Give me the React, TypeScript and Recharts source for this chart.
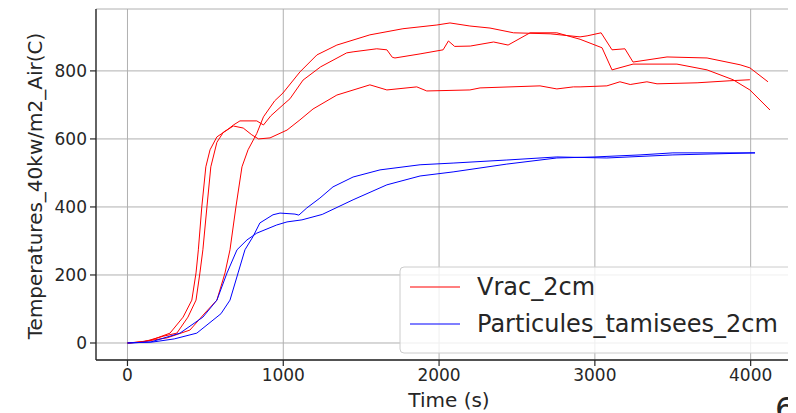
import React from 'react';
import { LineChart, Line, XAxis, YAxis, CartesianGrid } from 'recharts';

const xTicks = [0, 1000, 2000, 3000, 4000];
const yTicks = [0, 200, 400, 600, 800];
const legendLabels = ['Vrac_2cm', 'Particules_tamisees_2cm'];
const xLabel = 'Time (s)';
const yLabel = 'Temperatures_40kw/m2_Air(C)';

type P = { t: number; v: number };
const pts = (a: number[][]): P[] => a.map(([t, v]) => ({ t, v }));

// Vrac_2cm run 1 (early riser, plateau ~650)
const vrac1 = pts([
  [0, 0], [60, 2], [150, 8], [273, 29], [357, 76], [413, 126], [440, 206], [455, 274],
  [477, 400], [503, 518], [530, 568], [574, 606], [639, 626], [680, 641], [722, 653],
  [830, 653], [873, 641], [920, 668], [998, 700], [1043, 718], [1127, 773], [1240, 812],
  [1407, 853], [1448, 856], [1600, 865], [1665, 862], [1700, 840], [1717, 838], [1878, 850],
  [2026, 862], [2060, 888], [2100, 872], [2200, 873], [2350, 885], [2443, 876], [2584, 912],
  [2756, 912], [2905, 893], [3046, 868], [3110, 803], [3245, 820], [3527, 820], [3720, 803],
  [3887, 774], [3995, 744], [4124, 685],
]);

// Vrac_2cm run 2 (second riser, ends ~770)
const vrac2 = pts([
  [0, 0], [100, 3], [230, 20], [317, 29], [388, 76], [440, 126], [465, 206], [484, 274],
  [510, 400], [535, 518], [574, 590], [616, 620], [680, 638], [743, 632], [798, 612],
  [841, 600], [915, 603], [1024, 626], [1107, 656], [1191, 688], [1344, 729], [1556, 759],
  [1665, 744], [1857, 753], [1921, 741], [2198, 744], [2263, 750], [2648, 756], [2756, 747],
  [2862, 753], [2905, 753], [3077, 756], [3161, 768], [3227, 760], [3334, 768], [3399, 762],
  [3656, 765], [3867, 771], [3995, 774],
]);

// Vrac_2cm run 3 (late riser, top curve)
const vrac3 = pts([
  [0, 0], [100, 4], [253, 15], [401, 38], [497, 88], [574, 126], [626, 206], [658, 274],
  [696, 400], [735, 518], [774, 568], [830, 616], [873, 665], [945, 712], [998, 735],
  [1107, 797], [1216, 847], [1344, 876], [1556, 906], [1768, 924], [1986, 935], [2070, 941],
  [2198, 932], [2327, 926], [2478, 912], [2713, 909], [2905, 900], [2950, 903], [3040, 912],
  [3110, 862], [3193, 865], [3245, 826], [3463, 841], [3720, 838], [3932, 818], [3995, 809],
  [4111, 768],
]);

// Particules_tamisees_2cm run 1 (plateau ~380 near 1000 s)
const tam1 = pts([
  [0, 0], [164, 3], [300, 12], [445, 29], [600, 86], [658, 126], [710, 206], [754, 274],
  [806, 313], [850, 353], [934, 377], [979, 382], [1075, 379], [1100, 376], [1151, 397],
  [1235, 426], [1319, 459], [1448, 488], [1621, 509], [1878, 524], [2090, 529], [2435, 538],
  [2756, 547], [3077, 544], [3501, 553], [4028, 559],
]);

// Particules_tamisees_2cm run 2
const tam2 = pts([
  [0, 0], [150, 3], [337, 29], [484, 76], [574, 126], [639, 206], [703, 274], [767, 303],
  [830, 323], [958, 347], [1024, 356], [1120, 362], [1250, 378], [1448, 421], [1665, 465],
  [1878, 491], [2090, 503], [2435, 526], [2756, 544], [3000, 547], [3290, 553], [3501, 559],
  [4028, 559],
]);

const redSeries = [vrac1, vrac2, vrac3];
const blueSeries = [tam1, tam2];

const FONT = 'DejaVu Sans';
const AX = '#262626';

export default function App() {
  return (
    <div style={{ position: 'relative', width: 788, height: 405 }}>
      <LineChart width={788} height={405} margin={{ top: 1, right: 0, bottom: 0, left: 0 }}>
        <CartesianGrid stroke="#b0b0b0" strokeWidth={1} />
        <XAxis
          type="number"
          dataKey="t"
          domain={[-202, 4291]}
          ticks={xTicks}
          allowDataOverflow
          height={53}
          tickSize={6}
          tickMargin={3}
          tick={{ fontSize: 17, fill: AX, fontFamily: FONT }}
          axisLine={{ stroke: AX, strokeWidth: 1.3 }}
          tickLine={{ stroke: AX, strokeWidth: 1.2 }}
        />
        <XAxis
          xAxisId="top"
          orientation="top"
          type="number"
          domain={[-202, 4291]}
          height={0}
          tick={false}
          tickLine={false}
          axisLine={{ stroke: AX, strokeWidth: 1.3 }}
        />
        <YAxis
          type="number"
          domain={[-50, 982]}
          ticks={yTicks}
          allowDataOverflow
          width={88}
          tickSize={6}
          tickMargin={3}
          tick={{ fontSize: 17, fill: AX, fontFamily: FONT }}
          axisLine={{ stroke: AX, strokeWidth: 1.3 }}
          tickLine={{ stroke: AX, strokeWidth: 1.2 }}
        />
        {redSeries.map((d, i) => (
          <Line key={'r' + i} data={d} dataKey="v" type="linear" stroke="#ff0000" strokeWidth={1}
            dot={false} activeDot={false} isAnimationActive={false} />
        ))}
        {blueSeries.map((d, i) => (
          <Line key={'b' + i} data={d} dataKey="v" type="linear" stroke="#0000ff" strokeWidth={1}
            dot={false} activeDot={false} isAnimationActive={false} />
        ))}
      </LineChart>
      <svg
        width={796}
        height={413}
        style={{ position: 'absolute', left: -8, top: -8, pointerEvents: 'none', overflow: 'hidden' }}
      >
        <text transform="translate(42,186) rotate(-90)" textAnchor="middle" fontSize={20}
          fontFamily={FONT} fill={AX}>{yLabel}</text>
        <text x={449} y={406.5} textAnchor="middle" fontSize={20} fontFamily={FONT} fill={AX}>{xLabel}</text>
        <rect x={400} y={267} width={420} height={86} rx={4} fill="#ffffff" fillOpacity={0.8}
          stroke="#cccccc" strokeWidth={1} />
        <line x1={410} x2={460} y1={287} y2={287} stroke="#ff0000" strokeWidth={1.2} />
        <text x={477} y={295} fontSize={24} fontFamily={FONT} fill={AX}>{legendLabels[0]}</text>
        <line x1={410} x2={460} y1={324} y2={324} stroke="#0000ff" strokeWidth={1.2} />
        <text x={477} y={332} fontSize={24} fontFamily={FONT} fill={AX}>{legendLabels[1]}</text>
        <text x={775} y={420} fontSize={32} fontFamily={FONT} fill={AX}>6</text>
      </svg>
    </div>
  );
}
